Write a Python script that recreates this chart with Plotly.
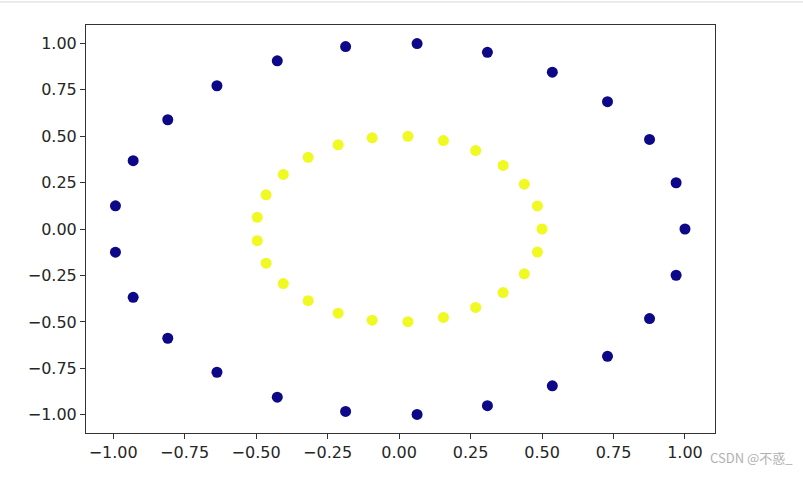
import plotly.graph_objects as go

# outer ring (label 0) and inner ring (label 1)
outer_x = [1.000, 0.969, 0.876, 0.729, 0.536, 0.309, 0.063, -0.187, -0.426, -0.637, -0.809, -0.930, -0.992,
           -0.992, -0.930, -0.809, -0.637, -0.426, -0.187, 0.063, 0.309, 0.536, 0.729, 0.876, 0.969]
outer_y = [0.000, 0.249, 0.482, 0.685, 0.844, 0.951, 0.998, 0.982, 0.905, 0.771, 0.588, 0.368, 0.125,
           -0.125, -0.368, -0.588, -0.771, -0.905, -0.982, -0.998, -0.951, -0.844, -0.685, -0.482, -0.249]
inner_x = [0.500, 0.484, 0.438, 0.364, 0.268, 0.155, 0.031, -0.094, -0.213, -0.318, -0.405, -0.465, -0.496,
           -0.496, -0.465, -0.405, -0.318, -0.213, -0.094, 0.031, 0.155, 0.268, 0.364, 0.438, 0.484]
inner_y = [0.000, 0.124, 0.241, 0.342, 0.422, 0.476, 0.499, 0.491, 0.453, 0.386, 0.294, 0.184, 0.063,
           -0.063, -0.184, -0.294, -0.386, -0.453, -0.491, -0.499, -0.476, -0.422, -0.342, -0.241, -0.124]

tick_vals = [-1.0, -0.75, -0.5, -0.25, 0.0, 0.25, 0.5, 0.75, 1.0]

fig = go.Figure()
fig.add_trace(go.Scatter(x=outer_x, y=outer_y, mode='markers',
                         marker=dict(size=11, color='#0d0887')))
fig.add_trace(go.Scatter(x=inner_x, y=inner_y, mode='markers',
                         marker=dict(size=11, color='#f0f921')))

axis_style = dict(
    tickvals=tick_vals,
    tickformat='.2f',
    ticks='outside',
    ticklen=5,
    tickcolor='#333333',
    showline=True,
    linecolor='#333333',
    linewidth=1,
    mirror=True,
    showgrid=False,
    zeroline=False,
    fixedrange=True,
)
fig.update_xaxes(range=[-1.095, 1.105], **axis_style)
fig.update_yaxes(range=[-1.098, 1.098], **axis_style)

fig.update_layout(
    width=803,
    height=502,
    showlegend=False,
    plot_bgcolor='white',
    paper_bgcolor='white',
    margin=dict(l=86, r=88, t=25, b=69),
    font=dict(family='DejaVu Sans', size=16, color='#262626'),
    # notebook cell border at the top of the screenshot
    shapes=[dict(type='line', xref='paper', yref='paper', x0=-0.2, x1=1.2,
                 y0=1.0564, y1=1.0564, line=dict(color='#d9d9d9', width=1))],
    annotations=[dict(text='CSDN @不惑_', xref='paper', yref='paper',
                      x=1.127, y=-0.061, xanchor='right', yanchor='middle', showarrow=False,
                      font=dict(family='Noto Sans CJK SC', size=13, color='#b0b0b0'))],
)

# drop the default body margin so the figure sits at the window's corner
fig.write_html("out.html", config={'displayModeBar': False},
               post_script="document.body.style.margin='0';")
